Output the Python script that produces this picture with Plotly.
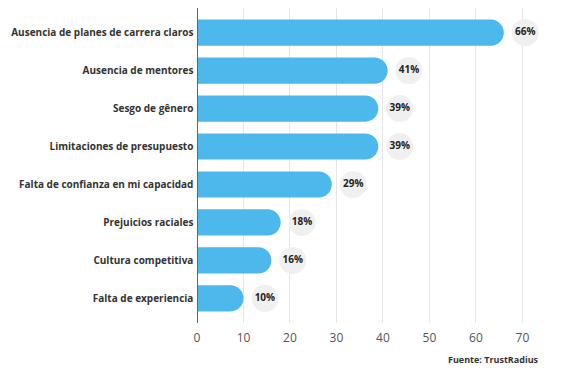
import plotly.graph_objects as go

categories = [
    "Ausencia de planes de carrera claros",
    "Ausencia de mentores",
    "Sesgo de gênero",
    "Limitaciones de presupuesto",
    "Falta de confianza en mi capacidad",
    "Prejuicios raciales",
    "Cultura competitiva",
    "Falta de experiencia",
]
values = [66, 41, 39, 39, 29, 18, 16, 10]
labels = [f"{v}%" for v in values]
tick_vals = [0, 10, 20, 30, 40, 50, 60, 70]
source = "Fuente: TrustRadius"

label_offset = 4.6  # data units right of bar end

fig = go.Figure()
fig.add_trace(go.Bar(
    x=values, y=categories, orientation="h",
    marker=dict(color="#4db8ec", cornerradius=13, line=dict(width=0)),
    width=0.69, hoverinfo="skip",
))
fig.add_trace(go.Scatter(
    x=[v + label_offset for v in values], y=categories,
    mode="markers+text", text=labels, textposition="middle center",
    marker=dict(size=27, color="#f0f0f0", line=dict(width=0)),
    textfont=dict(family="Open Sans", size=10, color="#222222", weight="bold"),
    hoverinfo="skip", cliponaxis=False,
))
fig.update_layout(
    width=565, height=373,
    margin=dict(l=197, r=24, t=8, b=50, autoexpand=False),
    paper_bgcolor="white", plot_bgcolor="white",
    showlegend=False,
    font=dict(family="Open Sans", color="#333333"),
    xaxis=dict(
        range=[0, 74], tickvals=tick_vals, showgrid=True, gridcolor="#e6e6e6", gridwidth=1,
        zeroline=False, showline=False, ticks="", automargin=False, ticklabelstandoff=6,
        tickfont=dict(size=12, color="#555555"),
    ),
    yaxis=dict(
        autorange=False, range=[7.65, -0.65], type="category", automargin=False,
        showgrid=False, zeroline=False, showline=False, ticks="",
        tickfont=dict(size=10, color="#333333", weight="bold"),
        ticksuffix=" ",
    ),
    shapes=[dict(type="line", xref="x", yref="paper", x0=0, x1=0, y0=0, y1=1,
                 line=dict(color="#666666", width=2))],
    annotations=[dict(text=source, xref="paper", yref="paper", x=1, y=-0.09,
                      xanchor="right", yanchor="top", showarrow=False,
                      font=dict(size=9, color="#333333", weight="bold"))],
)
fig.write_html(
    "out.html",
    config={"displayModeBar": False},
    post_script="document.body.style.margin='0';document.body.style.overflow='hidden';",
)
